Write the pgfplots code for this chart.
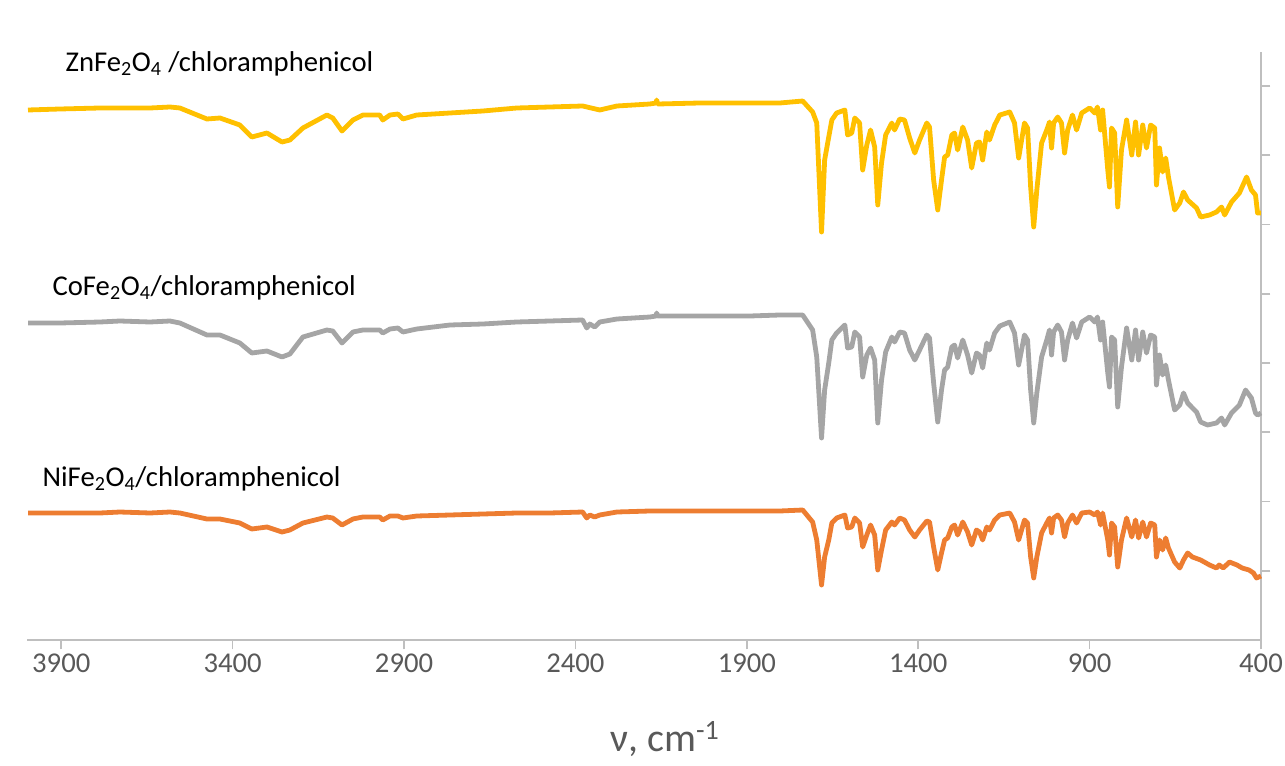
\documentclass[border=0pt]{standalone}
\usepackage{pgfplots}
\pgfplotsset{compat=1.18}
\usepackage{fontspec}
\setmainfont{Carlito}
\definecolor{cZn}{HTML}{FFC000}
\definecolor{cCo}{HTML}{A5A5A5}
\definecolor{cNi}{HTML}{ED7D31}
\definecolor{axgray}{HTML}{BFBFBF}
\definecolor{txgray}{HTML}{595959}
\begin{document}
\begin{tikzpicture}
\path[use as bounding box] (0,0) rectangle (963.75pt,573.75pt);
\begin{axis}[
  at={(20.25pt,93.75pt)}, anchor=south west,
  scale only axis, width=925.5pt, height=441pt,
  xmin=400, xmax=4000, x dir=reverse,
  ymin=0, ymax=588,
  axis x line*=bottom, axis y line*=right,
  axis line style={axgray, line width=1.2pt},
  every tick/.style={axgray, line width=1.2pt},
  tick align=outside, major tick length=7pt,
  xtick={400,900,...,3900},
  ytick={69.25,138.5,207.75,277,346.25,415.5,484.75,554},
  yticklabels={},
  /pgf/number format/assume math mode=true,
  x tick label style={/pgf/number format/1000 sep={}, font=\fontsize{21.5}{25}\selectfont, text=txgray},
  xlabel={ν, cm\textsuperscript{-1}},
  xlabel style={at={(axis description cs:0.517,-0.168)}, anchor=center, font=\fontsize{30}{34}\selectfont, text=txgray},
  clip=false,
  every axis plot/.append style={line width=3.6pt, line join=round, no markers},
]
% ZnFe2O4
\addplot[cZn] coordinates {
(3997,530)(3904,531)(3787,532)(3729,532)(3641,532)(3583,533)(3554,532)(3475,521)(3437,522)(3379,515)(3344,503)(3300,507)(3256,498)(3233,500)(3195,512)(3125,525)(3108,522)(3081,509)(3049,520)(3020,525)(2971,525)(2962,520)(2941,525)(2918,526)(2903,521)(2863,525)(2766,527)(2670,529)(2571,532)(2475,533)(2379,534)(2329,530)(2279,534)(2183,536)(2165,537)(2163,540)(2160,536)(2037,537)(1891,537)(1804,537)(1737,539)
(1708,528)(1696,517)(1682,408)(1673,480)(1661,503)(1652,520)(1638,527)(1614,530)(1606,505)(1594,507)(1585,522)(1571,517)(1562,470)(1550,495)(1539,510)(1527,493)(1518,435)(1507,477)(1495,505)(1477,517)(1469,510)(1454,521)(1440,520)(1425,502)(1410,487)(1396,500)(1375,517)(1367,513)(1355,460)(1343,430)(1332,460)(1323,483)(1314,485)(1302,505)(1294,507)(1285,490)(1270,513)(1256,500)(1244,472)(1230,497)(1221,498)(1212,480)(1200,508)(1192,500)(1177,515)(1162,525)(1133,528)(1119,517)(1107,482)(1090,517)(1081,512)(1072,453)(1063,413)(1054,450)(1040,497)(1025,510)(1017,518)(1011,492)(1005,517)(993,523)(982,517)(973,487)(964,510)(950,525)(938,510)(923,527)(900,532)(885,527)(877,533)(868,510)(862,530)(847,470)(842,453)(836,512)(827,507)(818,433)(807,490)(792,520)(777,485)(766,518)(757,485)(745,515)(734,492)(722,515)(710,512)(705,455)(696,492)(687,468)(678,482)(670,463)(652,430)(637,437)(626,448)(614,440)(588,432)(576,423)(550,425)(530,428)(515,433)(506,425)(486,438)(463,447)(442,463)(428,450)(416,445)(410,427)(400,427)
};
% CoFe2O4
\addplot[cCo] coordinates {
(3997,317)(3904,317)(3787,318)(3729,319)(3641,318)(3583,319)(3554,317)(3475,305)(3437,305)(3379,297)(3344,287)(3300,289)(3256,283)(3233,286)(3195,303)(3125,310)(3108,309)(3081,297)(3049,308)(3020,310)(2971,310)(2962,307)(2941,311)(2918,312)(2903,308)(2863,311)(2766,315)(2670,316)(2571,318)(2475,319)(2379,320)(2367,312)(2358,316)(2344,313)(2329,318)(2279,321)(2183,323)(2165,324)(2163,327)(2160,324)(2037,324)(1891,324)(1804,325)(1737,325)
(1708,310)(1696,283)(1682,202)(1673,250)(1661,277)(1652,300)(1638,307)(1614,315)(1606,292)(1594,293)(1585,308)(1571,303)(1562,263)(1550,285)(1539,292)(1527,280)(1518,217)(1507,260)(1495,288)(1477,303)(1469,298)(1454,308)(1440,307)(1425,290)(1410,280)(1396,290)(1375,305)(1367,302)(1355,257)(1343,218)(1332,250)(1323,270)(1314,273)(1302,293)(1294,295)(1285,282)(1270,300)(1256,285)(1244,267)(1230,287)(1221,285)(1212,272)(1200,297)(1192,290)(1177,307)(1162,314)(1133,318)(1119,307)(1107,275)(1090,305)(1081,300)(1072,250)(1063,217)(1054,247)(1040,283)(1025,300)(1017,310)(1011,285)(1005,308)(993,315)(982,308)(973,280)(964,300)(950,317)(938,302)(923,318)(900,323)(885,318)(877,323)(868,300)(862,318)(847,267)(842,253)(836,303)(827,300)(818,233)(807,273)(792,312)(777,280)(766,310)(757,280)(745,308)(734,287)(722,305)(710,303)(705,255)(696,285)(687,265)(678,275)(670,260)(652,230)(637,235)(626,247)(614,237)(588,228)(576,218)(556,215)(530,217)(515,222)(506,215)(486,227)(463,235)(445,250)(428,242)(416,227)(410,225)(400,227)
};
% NiFe2O4
\addplot[cNi] coordinates {
(3997,127)(3904,127)(3787,127)(3729,128)(3641,127)(3583,128)(3554,127)(3475,121)(3437,121)(3379,117)(3344,111)(3300,113)(3256,108)(3233,110)(3195,117)(3125,123)(3108,122)(3081,115)(3049,121)(3020,123)(2971,123)(2962,120)(2941,124)(2918,124)(2903,122)(2863,124)(2766,125)(2670,126)(2571,127)(2475,127)(2379,128)(2367,122)(2358,125)(2344,123)(2329,125)(2279,128)(2183,129)(2037,129)(1891,129)(1804,129)(1737,130)
(1708,118)(1696,100)(1682,55)(1673,83)(1661,100)(1652,117)(1638,122)(1614,125)(1606,112)(1594,113)(1585,122)(1571,117)(1562,93)(1550,105)(1539,115)(1527,105)(1518,70)(1507,90)(1495,110)(1477,118)(1469,115)(1454,122)(1440,120)(1425,110)(1410,103)(1396,110)(1375,119)(1367,118)(1355,93)(1343,70)(1332,87)(1323,100)(1314,102)(1302,113)(1294,115)(1285,105)(1270,118)(1256,108)(1244,95)(1230,110)(1221,108)(1212,100)(1200,113)(1192,110)(1177,120)(1162,125)(1133,127)(1119,118)(1107,100)(1090,120)(1081,117)(1072,83)(1063,62)(1054,83)(1040,107)(1025,117)(1017,122)(1011,107)(1005,122)(993,125)(982,120)(973,103)(964,117)(950,125)(938,117)(923,127)(900,128)(885,125)(877,128)(868,115)(862,127)(847,100)(842,85)(836,117)(827,113)(818,73)(807,100)(792,122)(777,103)(766,120)(757,102)(745,118)(734,103)(722,117)(710,115)(705,83)(696,100)(687,90)(678,102)(670,92)(652,78)(637,72)(626,80)(614,87)(600,83)(576,80)(550,75)(530,72)(522,75)(510,72)(492,78)(470,75)(455,72)(435,70)(422,67)(413,62)(400,64)
};
\node[anchor=west, font=\fontsize{21.5}{25}\selectfont] at (axis cs:3901,576) {ZnFe\textsubscript{2}O\textsubscript{4} /chloramphenicol};
\node[anchor=west, font=\fontsize{21.5}{25}\selectfont] at (axis cs:3939,352) {CoFe\textsubscript{2}O\textsubscript{4}/chloramphenicol};
\node[anchor=west, font=\fontsize{21.5}{25}\selectfont] at (axis cs:3968,161) {NiFe\textsubscript{2}O\textsubscript{4}/chloramphenicol};
\end{axis}
\end{tikzpicture}
\end{document}
